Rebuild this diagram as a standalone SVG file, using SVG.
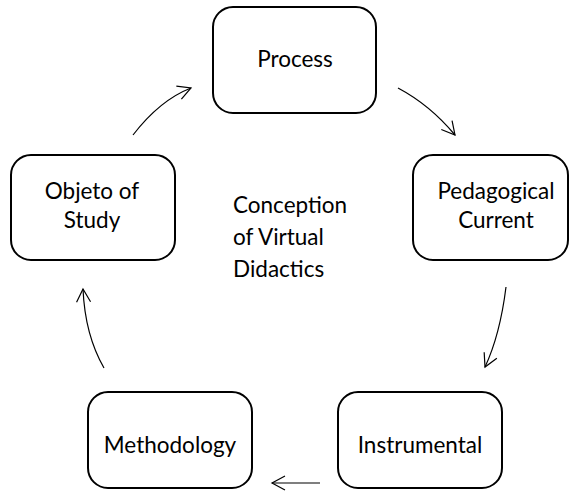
<svg xmlns="http://www.w3.org/2000/svg" width="572" height="499" viewBox="0 0 572 499">
<defs>
<style>
.box{fill:#fff;stroke:#000;stroke-width:2}
.t{font-family:Lato,"Liberation Sans",sans-serif;font-size:22.5px;fill:#000;text-anchor:middle}
.c{font-family:Lato,"Liberation Sans",sans-serif;font-size:22.5px;fill:#000}
.arr{fill:none;stroke:#000;stroke-width:1.2}
</style>
<marker id="ah" markerWidth="20" markerHeight="20" refX="0" refY="0" viewBox="-14 -10 16 20" orient="auto" markerUnits="userSpaceOnUse">
<path d="M-13,-7 L0,0 L-13,7" fill="none" stroke="#000" stroke-width="1.2"/>
</marker>
</defs>
<rect width="572" height="499" fill="#fff"/>
<g id="process">
<rect class="box" x="213" y="7" width="163" height="106" rx="20"/>
<text class="t" x="295" y="67">Process</text>
</g>
<g id="pedagogical">
<rect class="box" x="413" y="155" width="155" height="105" rx="20"/>
<text class="t" x="496" y="199">Pedagogical</text>
<text class="t" x="496" y="228">Current</text>
</g>
<g id="instrumental">
<rect class="box" x="338" y="392" width="164" height="96" rx="20"/>
<text class="t" x="420" y="453">Instrumental</text>
</g>
<g id="methodology">
<rect class="box" x="88" y="392" width="164" height="96" rx="20"/>
<text class="t" x="170" y="453">Methodology</text>
</g>
<g id="objeto">
<rect class="box" x="11" y="155" width="164" height="105" rx="20"/>
<text class="t" x="92" y="199">Objeto of</text>
<text class="t" x="92" y="228">Study</text>
</g>
<g id="center">
<text class="c" x="233" y="213">Conception</text>
<text class="c" x="233" y="245">of Virtual</text>
<text class="c" x="233" y="277">Didactics</text>
</g>
<g id="connectors">
<path class="arr" d="M133,135 Q160,100 191,88" marker-end="url(#ah)"/>
<path class="arr" d="M398,88 Q430,105 455,135" marker-end="url(#ah)"/>
<path class="arr" d="M506,287 Q500,335 485,367" marker-end="url(#ah)"/>
<path class="arr" d="M320,483 L272,483" marker-end="url(#ah)"/>
<path class="arr" d="M104,368 Q85,335 83,289" marker-end="url(#ah)"/>
</g>
</svg>
